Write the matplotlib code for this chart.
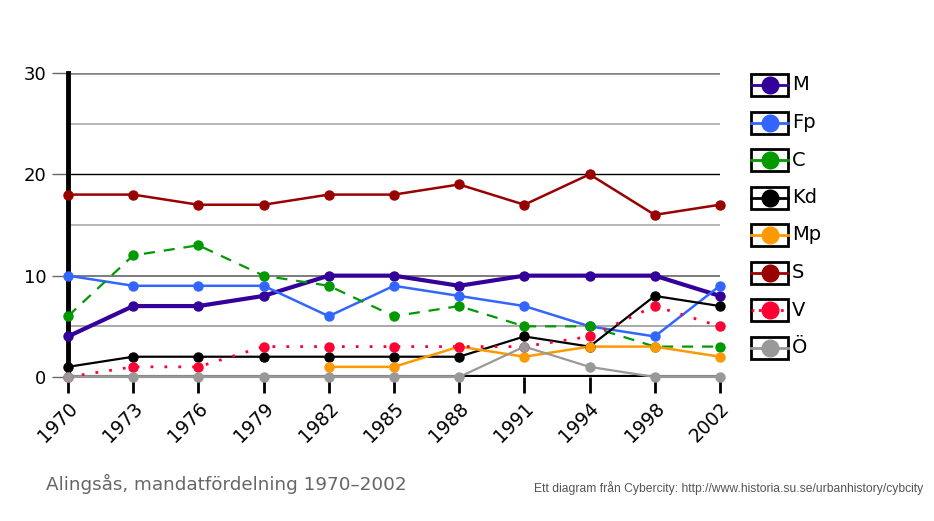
import matplotlib
matplotlib.use("Agg")
import matplotlib.pyplot as plt
from matplotlib.lines import Line2D
from matplotlib.patches import Rectangle

# data
years = ["1970", "1973", "1976", "1979", "1982", "1985", "1988", "1991", "1994", "1998", "2002"]
M = [4, 7, 7, 8, 10, 10, 9, 10, 10, 10, 8]
Fp = [10, 9, 9, 9, 6, 9, 8, 7, 5, 4, 9]
C = [6, 12, 13, 10, 9, 6, 7, 5, 5, 3, 3]
Kd = [1, 2, 2, 2, 2, 2, 2, 4, 3, 8, 7]
Mp = [None, None, None, None, 1, 1, 3, 2, 3, 3, 2]
S = [18, 18, 17, 17, 18, 18, 19, 17, 20, 16, 17]
V = [0, 1, 1, 3, 3, 3, 3, 3, 4, 7, 5]
O = [0, 0, 0, 0, 0, 0, 0, 3, 1, 0, 0]

parties = ["M", "Fp", "C", "Kd", "Mp", "S", "V", "Ö"]
values = [M, Fp, C, Kd, Mp, S, V, O]
colors = ["#330099", "#3366ff", "#009900", "#000000", "#ff9900", "#990000", "#ff0033", "#999999"]
styles = ["-", "-", (0, (5, 4)), "-", "-", "-", (0, (1, 4)), "-"]
widths = [3, 1.8, 1.6, 1.6, 1.8, 1.8, 2, 1.6]

fig = plt.figure(figsize=(9.34, 5.21), dpi=100)
ax = fig.add_axes([0.0728, 0.2764, 0.698, 0.5835])

# grid lines
for y, c, w in [(5, "#999999", 1.2), (10, "#666666", 1.2), (15, "#aaaaaa", 1.2),
                (20, "#000000", 1), (25, "#aaaaaa", 1.2), (30, "#808080", 1.8)]:
    ax.axhline(y, color=c, lw=w, zorder=1)
ax.axhline(0, color="#888888", lw=3, zorder=1)
ax.hlines(0, years.index("1988"), years.index("1998"), color="black", lw=3, zorder=2)

x = list(range(len(years)))
for name, vals, col, ls, lw in zip(parties, values, colors, styles, widths):
    xs = [i for i, v in zip(x, vals) if v is not None]
    ys = [v for v in vals if v is not None]
    ax.plot(xs, ys, color=col, ls=ls, lw=lw, zorder=3, clip_on=False)
    ax.plot(xs, ys, "o", color=col, ms=6.5, zorder=4, clip_on=False)

ax.set_xlim(0, len(years) - 1)
ax.set_ylim(0, 30)
for side in ["top", "right", "bottom"]:
    ax.spines[side].set_visible(False)
ax.spines["left"].set_linewidth(3.5)
ax.spines["left"].set_zorder(2.5)

ax.set_xticks(x)
ax.set_xticklabels(years, rotation=45, ha="right", rotation_mode="anchor", fontsize=13.5)
ax.set_yticks([0, 10, 20, 30])
ax.set_yticklabels(["0", "10", "20", "30"], fontsize=13)
ax.tick_params(axis="x", length=11.5, width=2, color="black", pad=4)
ax.tick_params(axis="y", length=11.5, width=1, color="#666666", pad=4)

# legend
for i, (name, col, lw) in enumerate(zip(parties, colors, widths)):
    yc = 1 - (85 + i * 37.5) / 521
    x0, x1 = 751 / 934, 788 / 934
    h = 22 / 521
    fig.add_artist(Rectangle((x0, yc - h / 2), x1 - x0, h, transform=fig.transFigure,
                             fill=False, ec="black", lw=2))
    ls = ":" if name == "V" else "-"
    fig.add_artist(Line2D([x0, x1], [yc, yc], transform=fig.transFigure, color=col,
                          lw=2, ls=ls))
    fig.add_artist(Line2D([(x0 + x1) / 2], [yc], transform=fig.transFigure, color=col,
                          marker="o", ms=12))
    fig.text(792 / 934, yc, name, fontsize=14, va="center", ha="left")

fig.text(46 / 934, 1 - 484 / 521, "Alingsås, mandatfördelning 1970\u20132002",
         fontsize=13.25, color="#666666", va="center", ha="left")
fig.text(923 / 934, 1 - 488 / 521,
         "Ett diagram från Cybercity: http://www.historia.su.se/urbanhistory/cybcity",
         fontsize=8.7, color="#555555", va="center", ha="right", family="Liberation Sans")

fig.savefig("out.png", dpi=100)
